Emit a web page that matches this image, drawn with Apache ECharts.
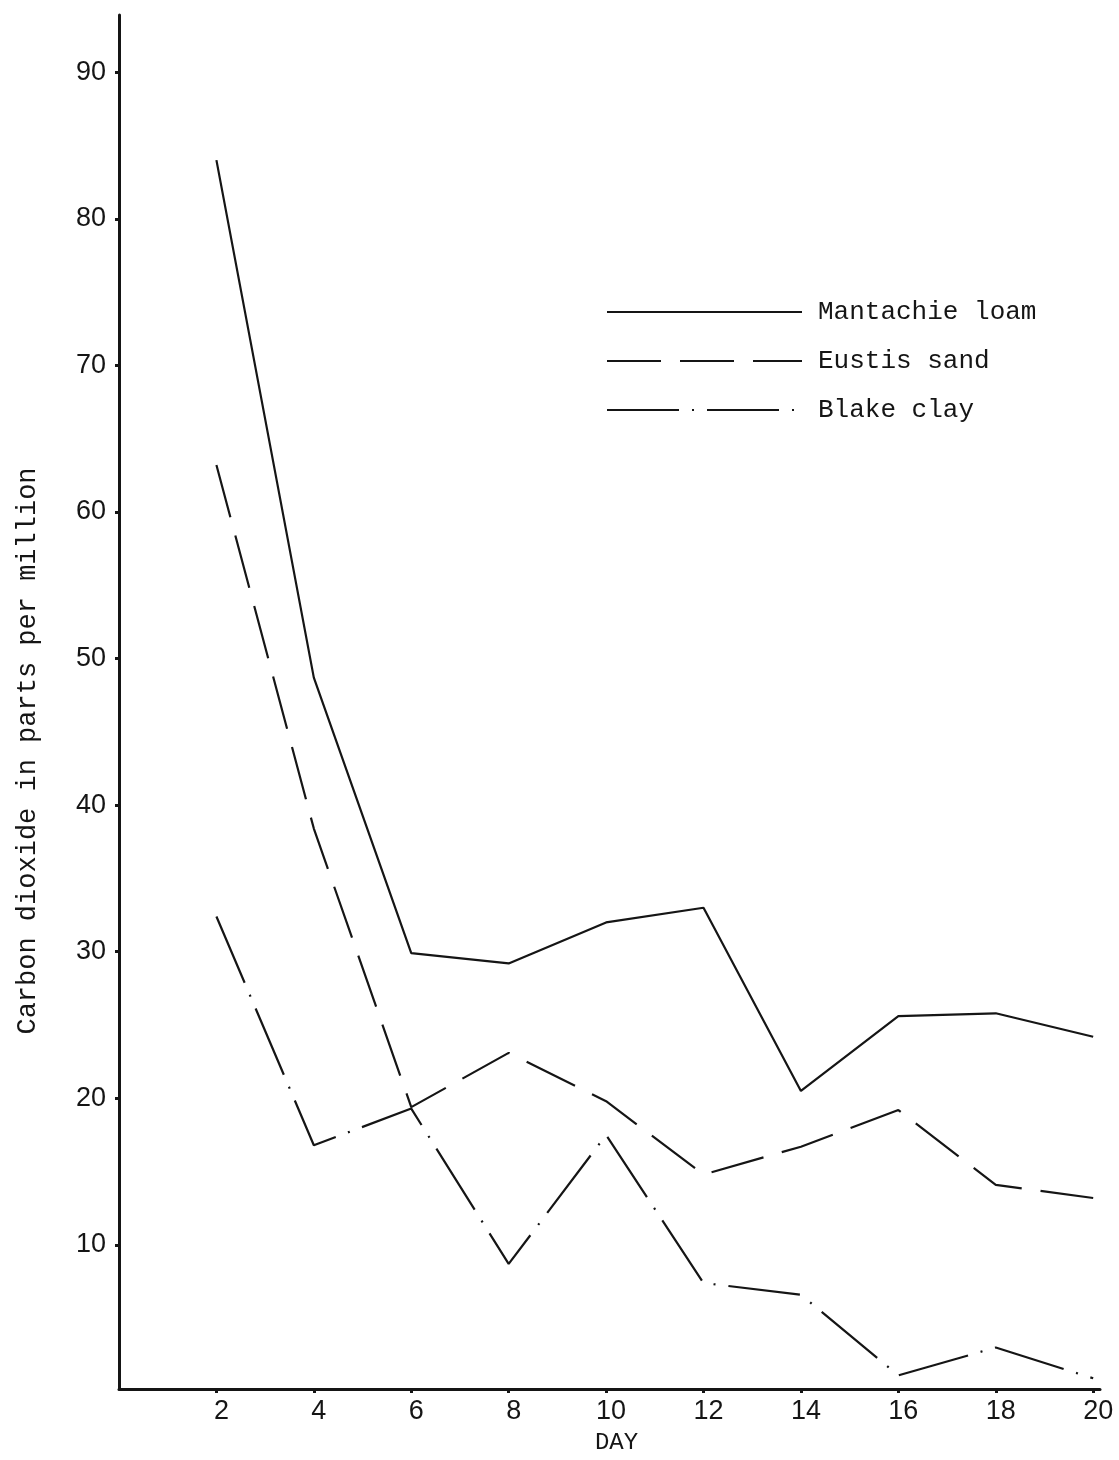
<!DOCTYPE html>
<html>
<head>
<meta charset="utf-8">
<script src="https://cdn.jsdelivr.net/npm/echarts@6/dist/echarts.min.js"></script>
<style>
html,body{margin:0;padding:0;background:#fff;}
#chart{width:1119px;height:1460px;}
</style>
</head>
<body>
<div id="chart"></div>
<script>
const days = [2, 4, 6, 8, 10, 12, 14, 16, 18, 20];
const mantachieLoam = [84.0, 48.7, 29.9, 29.2, 32.0, 33.0, 20.5, 25.6, 25.8, 24.2];
const eustisSand = [63.2, 38.4, 19.4, 23.1, 19.8, 14.8, 16.7, 19.2, 14.1, 13.2];
const blakeClay = [32.4, 16.8, 19.3, 8.7, 17.5, 7.4, 6.6, 1.1, 3.0, 0.9];
const xTickLabels = [2, 4, 6, 8, 10, 12, 14, 16, 18, 20];
const yTickLabels = [10, 20, 30, 40, 50, 60, 70, 80, 90];
const seriesNames = ['Mantachie loam', 'Eustis sand', 'Blake clay'];

const pair = (vals) => days.map((d, i) => [d, vals[i]]);
const ink = '#151515';

const chart = echarts.init(document.getElementById('chart'));
chart.setOption({
  backgroundColor: '#ffffff',
  animation: false,
  grid: { left: 119, right: 19, top: 15, bottom: 69, containLabel: false },
  legend: {
    left: 601, top: 294, orient: 'vertical',
    itemWidth: 195, itemHeight: 26, itemGap: 23,
    data: seriesNames,
    itemStyle: { opacity: 0 },
    textStyle: { fontFamily: 'Liberation Mono', fontSize: 26, color: ink, padding: [0, 0, 0, 11] }
  },
  xAxis: {
    type: 'value', min: 0, max: 20.14,
    name: 'DAY', nameLocation: 'middle', nameGap: 42,
    nameTextStyle: { fontFamily: 'Liberation Mono', fontSize: 24, color: ink, padding: [0, 0, 0, 14] },
    axisLine: { show: true, onZero: false, lineStyle: { color: ink, width: 3 } },
    axisTick: { show: true, length: 4, lineStyle: { color: ink, width: 3 }, customValues: xTickLabels },
    axisLabel: { customValues: xTickLabels, margin: 9, fontFamily: 'Liberation Sans', fontSize: 27, color: ink, padding: [0, 0, 0, 10] },
    splitLine: { show: false }
  },
  yAxis: {
    type: 'value', min: 0.17, max: 93.9,
    name: 'Carbon dioxide in parts per million', nameLocation: 'middle', nameGap: 78,
    nameTextStyle: { fontFamily: 'Liberation Mono', fontSize: 27, color: ink, padding: [0, 98, 0, 0] },
    axisLine: { show: true, onZero: false, lineStyle: { color: ink, width: 3 } },
    axisTick: { show: true, length: 4, lineStyle: { color: ink, width: 3 }, customValues: yTickLabels },
    axisLabel: { customValues: yTickLabels, margin: 13, fontFamily: 'Liberation Sans', fontSize: 27, color: ink },
    splitLine: { show: false }
  },
  series: [
    { name: seriesNames[0], type: 'line', symbol: 'none', data: pair(mantachieLoam),
      lineStyle: { color: ink, width: 2.2, type: 'solid' }, itemStyle: { color: ink } },
    { name: seriesNames[1], type: 'line', symbol: 'none', data: pair(eustisSand),
      lineStyle: { color: ink, width: 2.2, type: [54, 19] }, itemStyle: { color: ink } },
    { name: seriesNames[2], type: 'line', symbol: 'none', data: pair(blakeClay),
      lineStyle: { color: ink, width: 2.2, type: [72, 13, 2, 13] }, itemStyle: { color: ink } }
  ]
});
</script>
</body>
</html>
